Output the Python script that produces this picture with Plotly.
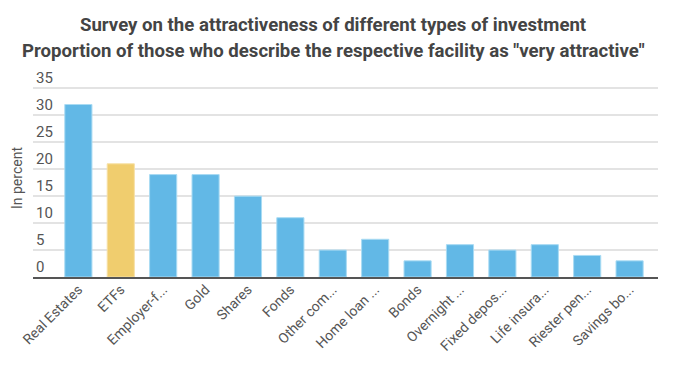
import plotly.graph_objects as go

categories = ["Real Estates", "ETFs", "Employer-f...", "Gold", "Shares", "Fonds",
              "Other com...", "Home loan ...", "Bonds", "Overnight ...", "Fixed depos...",
              "Life insura...", "Riester pen...", "Savings bo..."]
values = [32, 21, 19, 19, 15, 11, 5, 7, 3, 6, 5, 6, 4, 3]
highlight = "ETFs"
title_1 = "Survey on the attractiveness of different types of investment"
title_2 = "Proportion of those who describe the respective facility as \"very attractive\""
y_title = "In percent"

colors = ["#F0CD6E" if c == highlight else "#62B8E6" for c in categories]
lines = ["#F7E0A6" if c == highlight else "#A9DBF3" for c in categories]

# figure drawn inside the page body's default 8px margin
W, H = 670, 373
YMAX = 41
L, R, B = 25, 20, 104
ph = round(YMAX * 189 / 35)
T = H - B - ph
pw = W - L - R

def px_x(x):
    return (x - L) / pw

def px_y(y):
    return (H - B - y) / ph

fig = go.Figure(go.Bar(
    x=categories, y=values, marker=dict(color=colors, line=dict(color=lines, width=1)),
    width=0.64, hoverinfo="x+y"))

fig.update_layout(
    width=W, height=H,
    margin=dict(l=L, r=R, t=T, b=B),
    paper_bgcolor="white", plot_bgcolor="white",
    font=dict(family="Roboto", color="#555555"),
    showlegend=False,
)
fig.update_xaxes(range=[-1.07, 13.67], showline=True, linecolor="#555555", linewidth=2,
                 tickangle=-45, tickfont=dict(size=14, color="#555555"), ticks="",
                 ticklabelstandoff=-3,
                 showgrid=False, automargin=False)
fig.update_yaxes(range=[0, YMAX], tickvals=[0, 5, 10, 15, 20, 25, 30, 35],
                 ticklabelposition="inside top", tickfont=dict(size=15, color="#555555"),
                 gridcolor="#E3E3E3", gridwidth=1.5, zeroline=False, automargin=False)

for txt, yy in [(title_1, 17), (title_2, 43)]:
    fig.add_annotation(text=txt, x=px_x(325), y=px_y(yy), xref="paper", yref="paper",
                       xanchor="center", yanchor="middle", showarrow=False,
                       font=dict(family="Roboto", size=18.6, color="#444444", weight="bold"))
fig.add_annotation(text=y_title, textangle=-90, x=px_x(9), y=px_y(170),
                   xref="paper", yref="paper", xanchor="center", yanchor="middle",
                   showarrow=False, font=dict(family="Roboto", size=14, color="#555555"))
fig.write_html("out.html")
